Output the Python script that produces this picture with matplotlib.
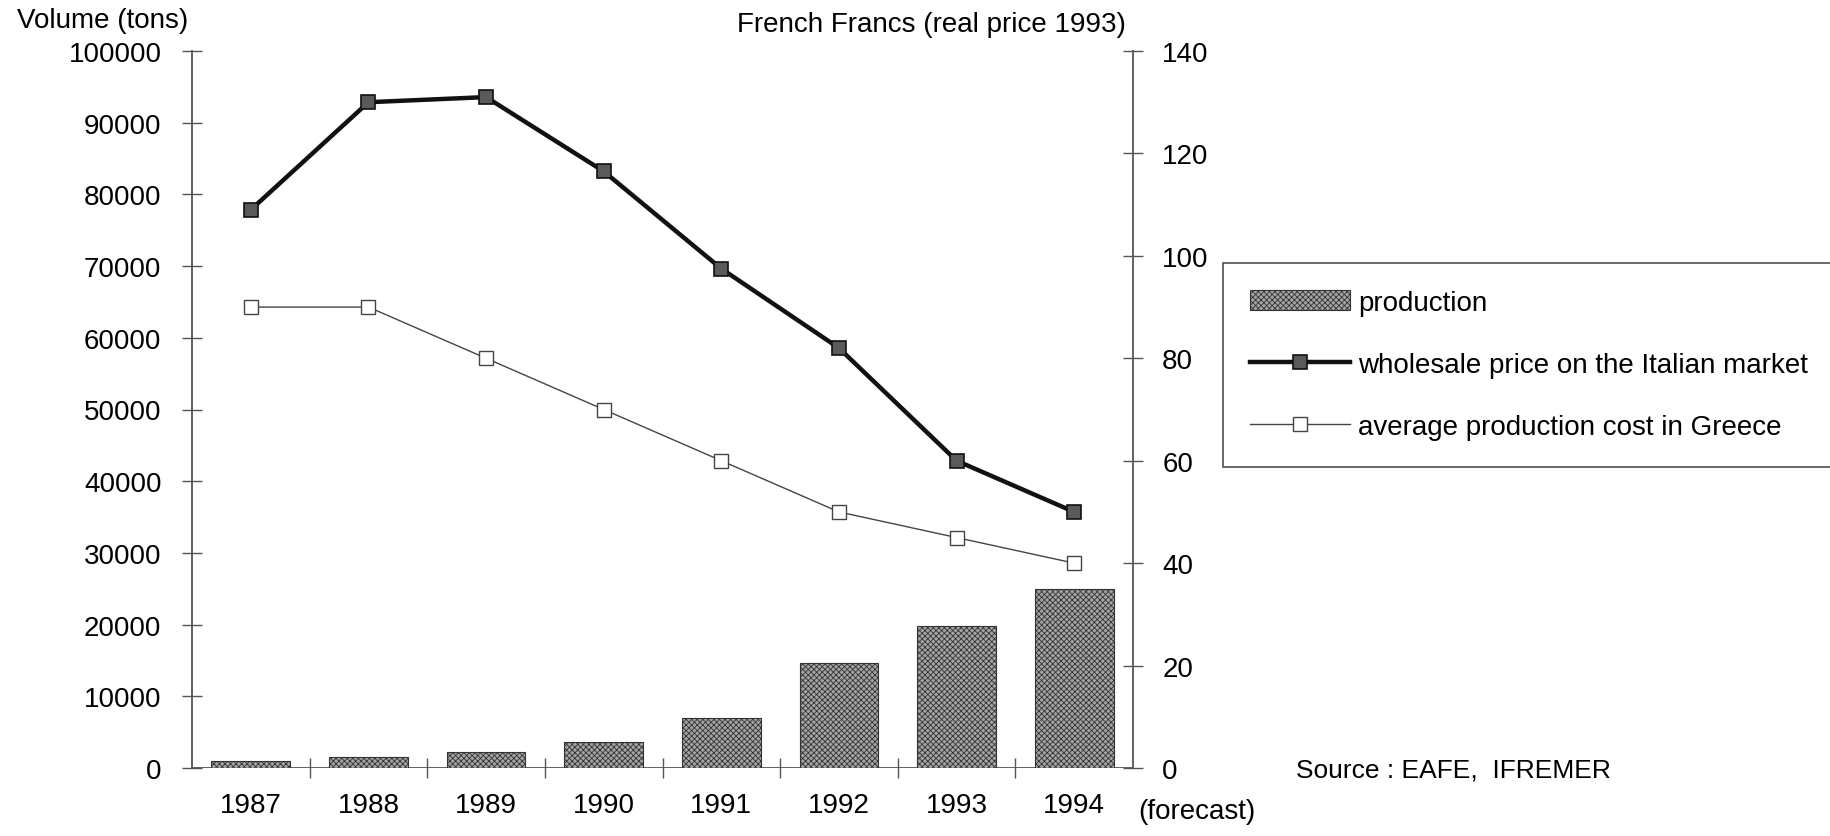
import matplotlib
matplotlib.use("Agg")
import matplotlib.pyplot as plt
import numpy as np

plt.rcParams['font.family'] = ['Liberation Sans', 'DejaVu Sans']
plt.rcParams['hatch.linewidth'] = 0.6

years = ["1987", "1988", "1989", "1990", "1991", "1992", "1993", "1994"]
production = [1000, 1550, 2250, 3600, 7000, 14600, 19850, 25000]
wholesale_price = [109, 130, 131, 116.5, 97.5, 82, 60, 50]
production_cost = [90, 90, 80, 70, 60, 50, 45, 40]
left_ticks = list(range(0, 100001, 10000))
right_ticks = list(range(0, 141, 20))

W, H = 1831, 837
fig = plt.figure(figsize=(W / 100, H / 100), dpi=100)
L, R, T, B = 192, 1133, 52, 769
ax = fig.add_axes([L / W, 1 - B / H, (R - L) / W, (B - T) / H])
ax2 = ax.twinx()

x = np.arange(len(years))
fs = 20
gray = '#555555'

bars = ax.bar(x, production, width=0.67, color='#a4a4a4', edgecolor='#333333',
              hatch='xxxxxx', linewidth=0.8, label='production', zorder=2)
ax.set_xlim(-0.5, len(years) - 0.5)
ax.set_ylim(0, 100000)
ax.set_yticks(left_ticks)
ax.set_yticklabels([str(v) for v in left_ticks], fontsize=fs)

l1, = ax2.plot(x, wholesale_price, color='#111111', linewidth=3.2, marker='s',
               markersize=9.5, markerfacecolor='#5a5a5a', markeredgecolor='#111111',
               markeredgewidth=1.2, label='wholesale price on the Italian market', zorder=4)
l2, = ax2.plot(x, production_cost, color='#444444', linewidth=1.0, marker='s',
               markersize=10, markerfacecolor='white', markeredgecolor='#444444',
               markeredgewidth=1.0, label='average production cost in Greece', zorder=3)
ax2.set_ylim(0, 140)
ax2.set_yticks(right_ticks)
ax2.set_yticklabels([str(v) for v in right_ticks], fontsize=fs)

for a in (ax, ax2):
    a.spines['top'].set_visible(False)
    a.spines['bottom'].set_visible(False)
    a.patch.set_visible(False)
ax.spines['right'].set_visible(False)
ax2.spines['left'].set_visible(False)
ax.spines['left'].set_color(gray)
ax.spines['left'].set_linewidth(1.3)
ax2.spines['right'].set_color(gray)
ax2.spines['right'].set_linewidth(1.3)

ax.tick_params(axis='y', direction='inout', length=14, width=1.0, color=gray, pad=15)
ax2.tick_params(axis='y', direction='inout', length=14, width=1.0, color=gray, pad=14)

# baseline and category boundary ticks
ax.axhline(0, color=gray, linewidth=1.3, zorder=1)
ax.set_xticks(np.arange(0.5, len(years) - 1, 1.0))
ax.set_xticklabels([])
ax.tick_params(axis='x', direction='inout', length=14, width=1.0, color=gray)
ax.set_xticks(x, minor=True)
ax.set_xticklabels(years, minor=True, fontsize=fs)
ax.tick_params(axis='x', which='minor', length=0, pad=17)

fig.text(17 / W, 1 - 21 / H, 'Volume (tons)', fontsize=fs, ha='left', va='center')
fig.text(1126 / W, 1 - 25 / H, 'French Francs (real price 1993)', fontsize=fs, ha='right', va='center')
fig.text(1138 / W, 1 - 812 / H, '(forecast)', fontsize=fs, ha='left', va='center')
fig.text(1296 / W, 1 - 771 / H, 'Source : EAFE,  IFREMER', fontsize=19, ha='left', va='center')

leg = fig.legend(handles=[bars, l1, l2], loc='center left',
                 bbox_to_anchor=(1223 / W, 1 - 366 / H, 1 - 1223 / W + 0.01, 0.0),
                 mode='expand', fontsize=fs, frameon=True, fancybox=False,
                 edgecolor='#222222', handlelength=3.6, handletextpad=0.3,
                 labelspacing=1.3, borderpad=0.96, borderaxespad=0)
leg.get_frame().set_linewidth(1.2)

fig.savefig('out.png', dpi=100)
